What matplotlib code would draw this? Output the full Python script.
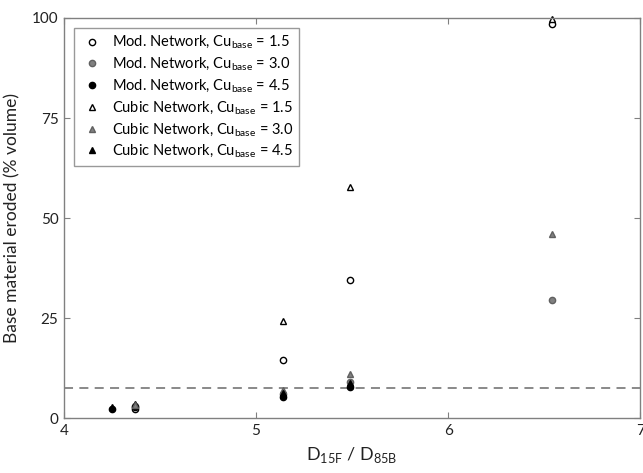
import matplotlib
matplotlib.use("Agg")
import matplotlib.pyplot as plt

plt.rcParams['font.family'] = ['Lato', 'DejaVu Sans']
plt.rcParams['mathtext.fontset'] = 'custom'
plt.rcParams['mathtext.rm'] = 'Lato'

# D15F / D85B ratios and eroded volume (%)
mod15_x = [4.37, 5.14, 5.49, 6.54]
mod15_y = [2.2, 14.5, 34.5, 98.5]
mod30_x = [4.37, 5.14, 5.49, 6.54]
mod30_y = [3.0, 6.0, 9.0, 29.5]
mod45_x = [4.25, 4.37, 5.14, 5.49]
mod45_y = [2.4, 2.8, 5.4, 7.9]
cub15_x = [4.37, 5.14, 5.49, 6.54]
cub15_y = [3.6, 24.2, 57.8, 99.8]
cub30_x = [4.37, 5.14, 5.49, 6.54]
cub30_y = [3.3, 7.0, 11.0, 46.0]
cub45_x = [4.25, 5.14, 5.49]
cub45_y = [2.8, 6.3, 8.7]

threshold = 7.5

fig = plt.figure(figsize=(6.43, 4.73), dpi=100)
ax = fig.add_axes([0.0995, 0.116, 0.896, 0.846])

gray = '#808080'
ms = 4.5
kw = dict(linestyle='none', markersize=ms, markeredgewidth=1.0, clip_on=False)
ax.plot(mod15_x, mod15_y, 'o', mfc='white', mec='black', label=r'Mod. Network, Cu$_{\mathrm{base}}$ = 1.5', **kw)
ax.plot(mod30_x, mod30_y, 'o', mfc=gray, mec='#606060', label=r'Mod. Network, Cu$_{\mathrm{base}}$ = 3.0', **kw)
ax.plot(mod45_x, mod45_y, 'o', mfc='black', mec='black', label=r'Mod. Network, Cu$_{\mathrm{base}}$ = 4.5', **kw)
ax.plot(cub15_x, cub15_y, '^', mfc='white', mec='black', label=r'Cubic Network, Cu$_{\mathrm{base}}$ = 1.5', **kw)
ax.plot(cub30_x, cub30_y, '^', mfc=gray, mec='#606060', label=r'Cubic Network, Cu$_{\mathrm{base}}$ = 3.0', **kw)
ax.plot(cub45_x, cub45_y, '^', mfc='black', mec='black', label=r'Cubic Network, Cu$_{\mathrm{base}}$ = 4.5', **kw)

ax.axhline(threshold, color='#808080', linestyle=(0, (5, 3.5)), linewidth=1.3, zorder=0)

ax.set_xlim(4, 7)
ax.set_ylim(0, 100)
ax.set_xticks([4, 5, 6, 7])
ax.set_yticks([0, 25, 50, 75, 100])
ax.tick_params(direction='in', length=4, width=0.8, color='#808080',
               top=True, right=True, labelsize=11, labelcolor='#222222', pad=4)
for s in ax.spines.values():
    s.set_color('#808080')
    s.set_linewidth(1.0)

ax.set_xlabel(r'D$_{\mathrm{15F}}$ / D$_{\mathrm{85B}}$', fontsize=13, color='#222222', labelpad=5)
ax.set_ylabel('Base material eroded (% volume)', fontsize=12.5, color='#222222', labelpad=8)

leg = ax.legend(loc='upper left', fontsize=10.5, frameon=True, fancybox=False,
                borderaxespad=0.7, handletextpad=0.6, labelspacing=0.3,
                borderpad=0.4, handlelength=1.6)
leg.get_frame().set_edgecolor('#808080')
leg.get_frame().set_linewidth(1.0)

fig.savefig('out.png', dpi=100)
